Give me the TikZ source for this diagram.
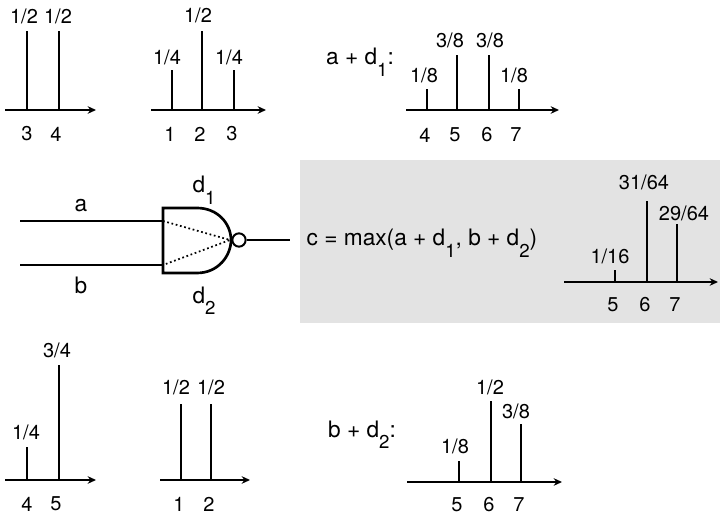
\documentclass[tikz,border=0pt]{standalone}
\usepackage{fontspec}
\setmainfont{TeX Gyre Heros}
\usetikzlibrary{positioning,arrows.meta,calc}
\definecolor{panelbg}{RGB}{227,227,227}
\newcommand{\sub}[1]{\raisebox{-8.5pt}{\fontsize{14}{15}\selectfont #1}}
\tikzset{
  lab/.style={font=\fontsize{15}{17}\selectfont,inner sep=0pt,anchor=center},
  big/.style={font=\fontsize{17}{20}\selectfont,inner sep=0pt,anchor=base},
  axisar/.style={-{Stealth[length=2.2mm,width=2mm]},line width=1.1pt},
  stemln/.style={line width=1.1pt},
  gateln/.style={line width=2pt},
  wire/.style={line width=1pt},
  bubble/.style={circle,draw,line width=1.5pt,fill=white,minimum size=10pt,inner sep=0pt},
}
\begin{document}
\begin{tikzpicture}[x=0.75pt,y=-0.75pt]
  \useasboundingbox (0,0) rectangle (720,516);
  \fill[panelbg] (300,160) rectangle (720,323);
  % top row
  \draw[axisar] (5,110) -- (96,110);
  \foreach \x/\t in {27/31,59/31} \draw[stemln] (\x,110) -- (\x,\t);
  \node[lab] (p1) at (24,16) {1/2};
  \node[lab] (p2) at (58,16) {1/2};
  \node[lab] (v3) at (27,134) {3};
  \node[lab] (v4) at (56,134) {4};
  \draw[axisar] (151,110) -- (266,110);
  \foreach \x/\t in {172/70,202/31,234/70} \draw[stemln] (\x,110) -- (\x,\t);
  \node[lab] (q1) at (167,57) {1/4};
  \node[lab] (q2) at (198,15) {1/2};
  \node[lab] (q3) at (229,57) {1/4};
  \node[lab] (w1) at (170,134) {1};
  \node[lab] (w2) at (200,134) {2};
  \node[lab] (w3) at (232,134) {3};
  \node[big] (sum1) at (360,65) {a + d\sub{1}:};
  \draw[axisar] (406,110) -- (559,110);
  \foreach \x/\t in {427/89,457/55,489/55,519/89} \draw[stemln] (\x,110) -- (\x,\t);
  \node[lab] (r1) at (424,75) {1/8};
  \node[lab] (r2) at (450,40) {3/8};
  \node[lab] (r3) at (490,40) {3/8};
  \node[lab] (r4) at (514,75) {1/8};
  \node[lab] (x4) at (425,135) {4};
  \node[lab] (x5) at (455,135) {5};
  \node[lab] (x6) at (487,135) {6};
  \node[lab] (x7) at (516,135) {7};
  % gate
  \coordinate (ain) at (20,221);
  \coordinate (bin) at (20,265);
  \coordinate (apin) at (163,221);
  \coordinate (bpin) at (163,265);
  \coordinate (tip) at (230,240);
  \coordinate (cout) at (290,240);
  \draw[wire] (ain) -- (apin);
  \draw[wire] (bin) -- (bpin);
  \draw[gateln,line join=miter] (163,208) -- (197,208) .. controls (218,208) and (231,224) .. (231,240)
    .. controls (231,256) and (218,273) .. (197,273) -- (163,273) -- cycle;
  \draw[line width=1.3pt,dash pattern=on 1.3pt off 2pt] (apin) -- (tip) -- (bpin);
  \node[bubble] (bub) at (239,240) {};
  \draw[wire] (bub.east) -- (cout);
  \node[big] (alab) at (81,212) {a};
  \node[big] (blab) at (81,293) {b};
  \node[big] (d1) at (204,193) {d\sub{1}};
  \node[big] (d2) at (204,303) {d\sub{2}};
  % result
  \node[big] (maxeq) at (422,246) {c = max(a + d\sub{1}, b + d\sub{2})};
  \draw[axisar] (564,282) -- (718,282);
  \foreach \x/\t in {615/270,647/201,677/224} \draw[stemln] (\x,282) -- (\x,\t);
  \node[lab] (c1) at (610,256) {1/16};
  \node[lab] (c2) at (644,182) {31/64};
  \node[lab] (c3) at (684,213) {29/64};
  \node[lab] (y5) at (613,305) {5};
  \node[lab] (y6) at (645,305) {6};
  \node[lab] (y7) at (675,305) {7};
  % bottom row
  \draw[axisar] (5,480) -- (96,480);
  \foreach \x/\t in {27/447,59/365} \draw[stemln] (\x,480) -- (\x,\t);
  \node[lab] (s1) at (26,432) {1/4};
  \node[lab] (s2) at (57,350) {3/4};
  \node[lab] (z4) at (27,504) {4};
  \node[lab] (z5) at (56,504) {5};
  \draw[axisar] (160,480) -- (250,480);
  \foreach \x/\t in {181/404,211/404} \draw[stemln] (\x,480) -- (\x,\t);
  \node[lab] (t1) at (176,387) {1/2};
  \node[lab] (t2) at (211,387) {1/2};
  \node[lab] (k1) at (179,504) {1};
  \node[lab] (k2) at (209,504) {2};
  \node[big] (sum2) at (362,437) {b + d\sub{2}:};
  \draw[axisar] (407,482) -- (562,482);
  \foreach \x/\t in {459/461,491/401,521/424} \draw[stemln] (\x,482) -- (\x,\t);
  \node[lab] (u1) at (455,446) {1/8};
  \node[lab] (u2) at (490,387) {1/2};
  \node[lab] (u3) at (516,411) {3/8};
  \node[lab] (m5) at (457,505) {5};
  \node[lab] (m6) at (489,505) {6};
  \node[lab] (m7) at (519,505) {7};
\end{tikzpicture}
\end{document}
